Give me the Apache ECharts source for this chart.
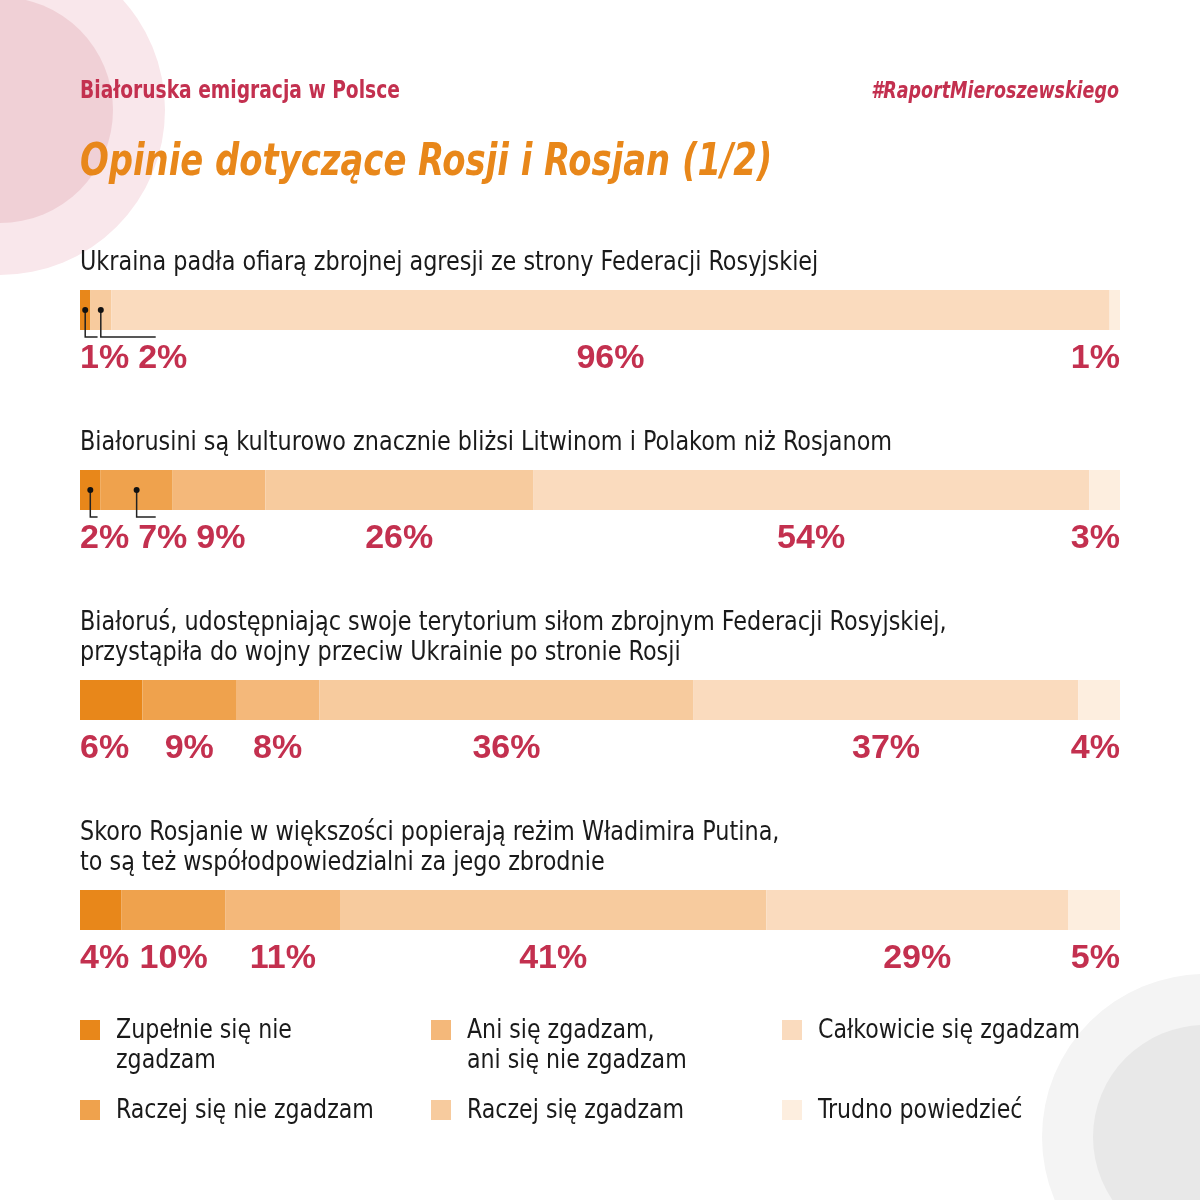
<!DOCTYPE html>
<html>
<head>
<meta charset="utf-8">
<script src="https://cdn.jsdelivr.net/npm/echarts@6/dist/echarts.min.js"></script>
<style>
  html, body { margin: 0; padding: 0; background: #fff; }
  #vis { width: 1200px; height: 1200px; }
</style>
</head>
<body>
<div id="vis"></div>
<script>
// answer categories, in stacking order
const categories = [
  "Zupełnie się nie zgadzam",
  "Raczej się nie zgadzam",
  "Ani się zgadzam, ani się nie zgadzam",
  "Raczej się zgadzam",
  "Całkowicie się zgadzam",
  "Trudno powiedzieć"
];
const legendLabels = [
  "Zupełnie się nie\nzgadzam",
  "Raczej się nie zgadzam",
  "Ani się zgadzam,\nani się nie zgadzam",
  "Raczej się zgadzam",
  "Całkowicie się zgadzam",
  "Trudno powiedzieć"
];
const questions = [
  "Ukraina padła ofiarą zbrojnej agresji ze strony Federacji Rosyjskiej",
  "Białorusini są kulturowo znacznie bliżsi Litwinom i Polakom niż Rosjanom",
  "Białoruś, udostępniając swoje terytorium siłom zbrojnym Federacji Rosyjskiej,\nprzystąpiła do wojny przeciw Ukrainie po stronie Rosji",
  "Skoro Rosjanie w większości popierają reżim Władimira Putina,\nto są też współodpowiedzialni za jego zbrodnie"
];
// percentages per question
const q1Values = [1, 0, 0, 2, 96, 1];
const q2Values = [2, 7, 9, 26, 54, 3];
const q3Values = [6, 9, 8, 36, 37, 4];
const q4Values = [4, 10, 11, 41, 29, 5];
const rows = [q1Values, q2Values, q3Values, q4Values];

const colors = ["#E8871A", "#EFA24D", "#F4B87A", "#F7CB9E", "#FADBBE", "#FDEEDF"];
const red = "#C3304F";
const ink = "#1A1A1A";

const barTops = [290, 470, 680, 890];
const condensed = '"DejaVu Sans Condensed", "DejaVu Sans", sans-serif';
const labelFont = { size: 34, weight: "bold", family: '"Liberation Sans", Arial, sans-serif' };

const measureCtx = document.createElement("canvas").getContext("2d");
function textWidth(t) {
  measureCtx.font = `${labelFont.weight} ${labelFont.size}px ${labelFont.family}`;
  return measureCtx.measureText(t).width;
}

const vis = document.getElementById("vis");
const chart = echarts.init(vis);

// percent labels under each bar; first sits at the bar start, last at the bar end,
// the rest centred and pushed right (with a leader) when segments are too narrow
function labelRenderer(r) {
  return function (params, api) {
    const row = rows[r];
    const total = row.reduce((a, b) => a + b, 0);
    const start = api.coord([0, 0]);
    const end = api.coord([total, 0]);
    const band = api.size([0, 1])[1];
    const midY = start[1];
    const bottom = midY + band / 2;
    const shown = row.map((v, i) => i).filter(i => row[i] > 0);
    const children = [];
    let cum = 0;
    let prevRight = -Infinity;
    row.forEach((v, i) => {
      if (v <= 0) { return; }
      const segC = (api.coord([cum, 0])[0] + api.coord([cum + v, 0])[0]) / 2;
      cum += v;
      const text = v + "%";
      const w = textWidth(text);
      let left = segC - w / 2;
      if (i === shown[0]) { left = start[0]; }
      left = Math.max(left, prevRight + 9);
      if (i === shown[shown.length - 1] || left + w > end[0]) { left = end[0] - w; }
      const labC = left + w / 2;
      prevRight = left + w;
      children.push({
        type: "text",
        style: {
          text: text, x: labC, y: bottom + 29,
          align: "center", verticalAlign: "middle",
          fontSize: labelFont.size, fontWeight: labelFont.weight, fontFamily: labelFont.family,
          fill: red
        }
      });
      if (labC - segC > 8) {
        children.push({
          type: "polyline",
          shape: { points: [[segC, midY], [segC, bottom + 7], [labC - 7, bottom + 7]] },
          style: { stroke: "#222", lineWidth: 1.5, fill: null }
        });
        children.push({
          type: "circle",
          shape: { cx: segC, cy: midY, r: 3 },
          style: { fill: "#111" }
        });
      }
    });
    return { type: "group", children: children };
  };
}

function createPlot() {
  const series = [];
  rows.forEach((row, r) => {
    categories.forEach((cat, c) => {
      series.push({
        type: "bar",
        name: cat,
        stack: "row" + r,
        xAxisIndex: r,
        yAxisIndex: r,
        barWidth: 40,
        silent: true,
        data: [row[c]],
        itemStyle: { color: colors[c] }
      });
    });
    series.push({
      type: "custom",
      xAxisIndex: r,
      yAxisIndex: r,
      silent: true,
      clip: false,
      z: 10,
      data: [[0, 0]],
      renderItem: labelRenderer(r)
    });
  });

  const graphic = [
    // decorative circles
    { type: "circle", z: 0, shape: { cx: 0, cy: 110, r: 165 }, style: { fill: "#F9E7EB" } },
    { type: "circle", z: 0, shape: { cx: 0, cy: 110, r: 113 }, style: { fill: "#F0D0D6" } },
    { type: "circle", z: 0, shape: { cx: 1205, cy: 1137, r: 163 }, style: { fill: "#F4F4F4" } },
    { type: "circle", z: 0, shape: { cx: 1205, cy: 1137, r: 112 }, style: { fill: "#E8E8E8" } },
    {
      type: "text", x: 80, y: 92, scaleX: 0.865, z: 5,
      style: { text: "Białoruska emigracja w Polsce", fontSize: 24, fontWeight: "bold",
        fontFamily: condensed, fill: red, align: "left", verticalAlign: "middle" }
    },
    {
      type: "text", x: 1119, y: 92, scaleX: 0.845, z: 5,
      style: { text: "#RaportMieroszewskiego", fontSize: 23, fontWeight: "bold", fontStyle: "italic",
        fontFamily: condensed, fill: red, align: "right", verticalAlign: "middle" }
    },
    {
      type: "text", x: 80, y: 164, scaleX: 0.855, z: 5,
      style: { text: "Opinie dotyczące Rosji i Rosjan (1/2)", fontSize: 44, fontWeight: "bold", fontStyle: "italic",
        fontFamily: condensed, fill: "#E8871A", align: "left", verticalAlign: "middle" }
    }
  ];

  questions.forEach((q, i) => {
    const lines = q.split("\n").length;
    graphic.push({
      type: "text", x: 80, y: barTops[i] - 27 - (lines - 1) * 30 - 15, scaleX: 0.955, z: 5,
      style: { text: q, fontSize: 26, lineHeight: 30, fontFamily: condensed, fill: ink,
        align: "left", verticalAlign: "top" }
    });
  });

  legendLabels.forEach((name, i) => {
    const col = Math.floor(i / 2);
    const rowIdx = i % 2;
    const x = 80 + col * 351;
    const y = 1020 + rowIdx * 80;
    graphic.push({ type: "rect", z: 5, shape: { x: x, y: y, width: 20, height: 20 }, style: { fill: colors[i] } });
    graphic.push({
      type: "text", x: x + 36, y: y - 4, scaleX: 0.945, z: 5,
      style: { text: name, fontSize: 26, lineHeight: 30, fontFamily: condensed, fill: ink,
        align: "left", verticalAlign: "top" }
    });
  });

  const options = {
    backgroundColor: "#fff",
    animation: false,
    grid: barTops.map(t => ({ left: 80, width: 1040, top: t, height: 40 })),
    xAxis: rows.map((row, i) => ({
      type: "value", gridIndex: i, min: 0, max: row.reduce((a, b) => a + b, 0), show: false
    })),
    yAxis: rows.map((row, i) => ({
      type: "category", gridIndex: i, data: ["q" + (i + 1)], show: false
    })),
    series: series,
    graphic: graphic
  };
  chart.setOption(options);
}

createPlot();
</script>
</body>
</html>
